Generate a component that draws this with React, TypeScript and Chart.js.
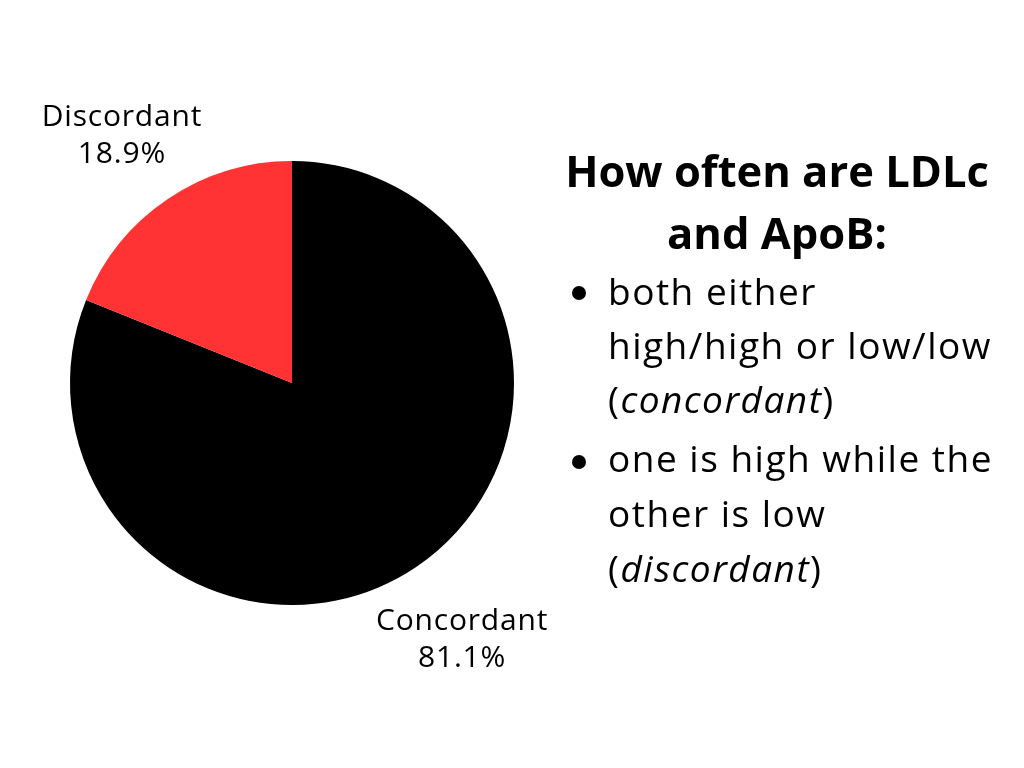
import React, { useEffect, useRef } from "react";
import { Chart, registerables } from "chart.js";

Chart.register(...registerables);

const categories = ["Concordant", "Discordant"];
const values = [81.1, 18.9];
const colors = ["#000000", "#FF3333"];
const titleLines = ["How often are LDLc", "and ApoB:"];

const FONT = "'Open Sans', sans-serif";

const labelPlugin = {
  id: "outerLabels",
  afterDatasetsDraw(chart: any) {
    const ctx = chart.ctx;
    const meta = chart.getDatasetMeta(0);
    ctx.save();
    ctx.font = `30px ${FONT}`;
    (ctx as any).letterSpacing = "0.8px";
    ctx.fillStyle = "#000";
    ctx.textAlign = "center";
    ctx.textBaseline = "middle";
    meta.data.forEach((arc: any, i: number) => {
      const p = arc.getProps(["x", "y", "startAngle", "endAngle", "outerRadius"], true);
      const mid = (p.startAngle + p.endAngle) / 2;
      const d = p.outerRadius + 82;
      const cx = p.x + Math.cos(mid) * d;
      const cy = p.y + Math.sin(mid) * d;
      ctx.fillText(categories[i], cx, cy - 14);
      ctx.fillText(values[i].toFixed(1) + "%", cx, cy + 23);
    });
    ctx.restore();
  },
};

export default function App() {
  const ref = useRef<HTMLCanvasElement>(null);
  useEffect(() => {
    const chart = new Chart(ref.current!, {
      type: "pie",
      data: {
        labels: categories,
        datasets: [
          {
            data: values,
            backgroundColor: colors,
            borderWidth: 0,
          },
        ],
      },
      options: {
        animation: false,
        responsive: false,
        layout: { padding: { left: 70, right: 510, top: 161, bottom: 163 } },
        plugins: { legend: { display: false }, tooltip: { enabled: false } },
      },
      plugins: [labelPlugin],
    });
    return () => chart.destroy();
  }, []);

  const bodyStyle: React.CSSProperties = {
    position: "absolute",
    left: 608,
    fontFamily: FONT,
    fontSize: 37,
    lineHeight: "37px",
    letterSpacing: "1.5px",
    whiteSpace: "nowrap",
    color: "#000",
  };
  const lines: { text: React.ReactNode; base: number }[] = [
    { text: "both either", base: 305 },
    { text: "high/high or low/low", base: 359 },
    { text: <>(<i>concordant</i>)</>, base: 413 },
    { text: "one is high while the", base: 472 },
    { text: "other is low", base: 527 },
    { text: <>(<i>discordant</i>)</>, base: 582 },
  ];
  const bullets = [293, 462];

  return (
    <div style={{ position: "fixed", left: 0, top: 0, width: 1024, height: 768, background: "#fff" }}>
      <canvas ref={ref} width={1024} height={768} style={{ position: "absolute", left: 0, top: 0 }} />
      {titleLines.map((t, i) => (
        <div
          key={t}
          style={{
            position: "absolute",
            left: 527,
            width: 500,
            top: [188, 250][i] - 39,
            textAlign: "center",
            fontFamily: FONT,
            fontWeight: 700,
            fontSize: 43.5,
            lineHeight: "43.5px",
            whiteSpace: "nowrap",
          }}
        >
          {t}
        </div>
      ))}
      {bullets.map((b) => (
        <div
          key={b}
          style={{ position: "absolute", left: 572, top: b - 7, width: 14, height: 14, borderRadius: 7, background: "#000" }}
        />
      ))}
      {lines.map((l, i) => (
        <div key={i} style={{ ...bodyStyle, top: l.base - 33 }}>
          {l.text}
        </div>
      ))}
    </div>
  );
}
